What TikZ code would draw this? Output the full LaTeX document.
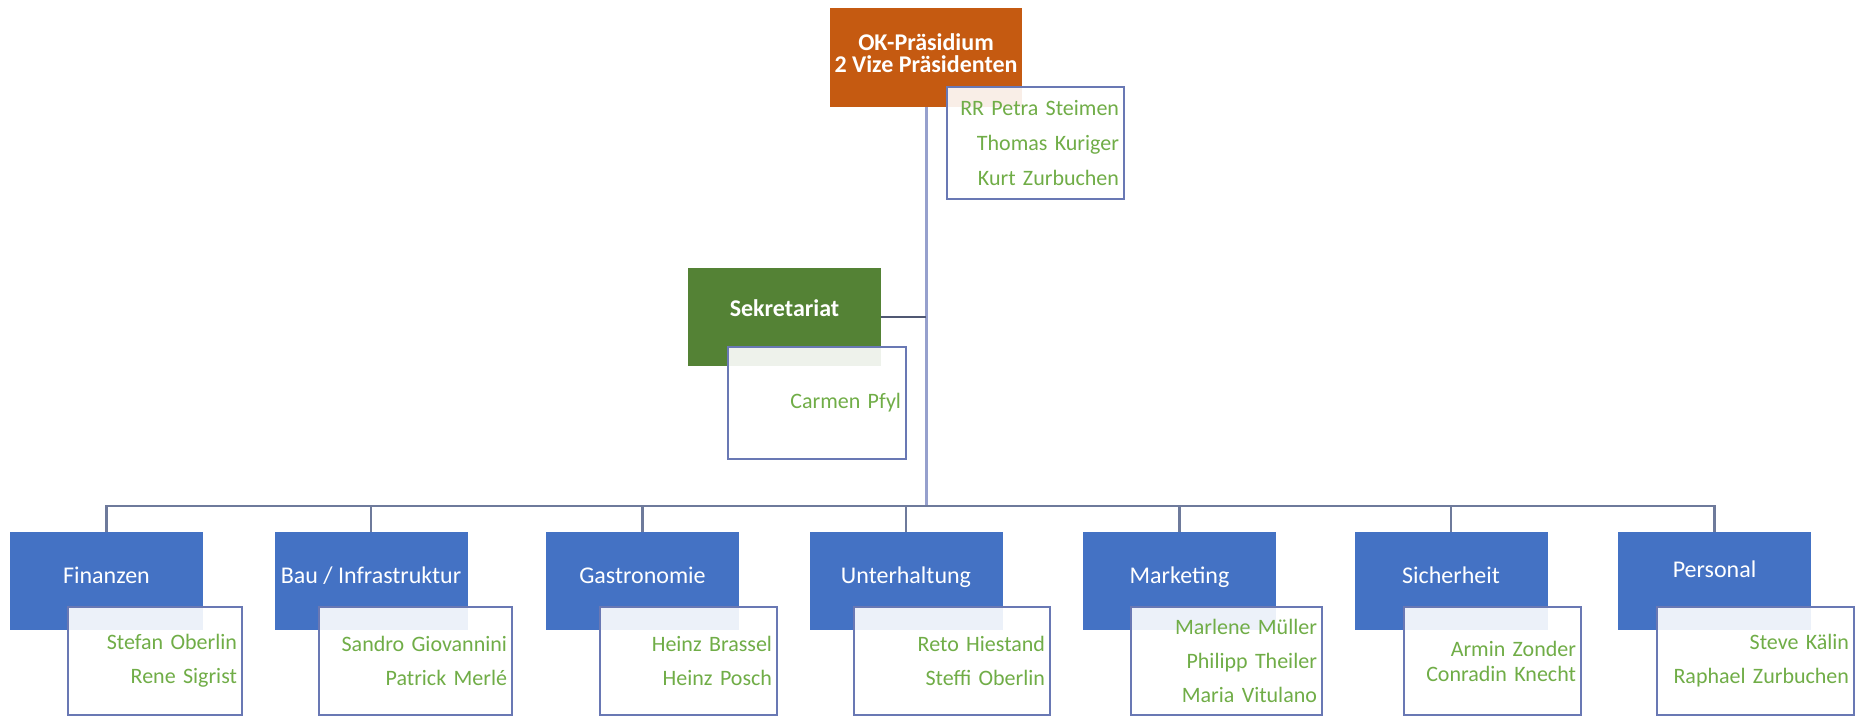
\documentclass[tikz,border=0pt]{standalone}
\usepackage{fontspec}
\setmainfont{Carlito}
\usepackage{tikz}
\usetikzlibrary{calc}
\definecolor{okorange}{RGB}{197,90,17}
\definecolor{sekgreen}{RGB}{84,130,53}
\definecolor{deptblue}{RGB}{68,114,196}
\definecolor{namegreen}{RGB}{112,173,71}
\definecolor{boxline}{RGB}{105,120,180}
\definecolor{trunkline}{RGB}{150,160,205}
\definecolor{branchline}{RGB}{110,122,155}
\definecolor{seklink}{RGB}{80,88,115}
\newcommand{\namefont}{\fontsize{11}{17}\selectfont}

\begin{document}
\begin{tikzpicture}[x=0.5pt,y=-0.5pt,
  box/.style={fill=deptblue,text=white,font=\fontsize{12}{11}\selectfont,
    minimum width=96.5pt,minimum height=49pt,inner sep=0pt},
  head/.style={box,text height=8pt,text depth=6pt},
  names/.style={draw=boxline,line width=0.8pt,fill=white,fill opacity=0.9,
    text opacity=1,text=namegreen,font=\namefont,align=right,
    minimum height=54pt,inner xsep=2.5pt,inner ysep=0pt},
  trunk/.style={draw=trunkline,line width=1.5pt},
  branch/.style={draw=branchline,line width=1.2pt}]
\useasboundingbox (0,0) rectangle (1856,719);

% top
\node[box,fill=okorange,font=\bfseries\fontsize{12}{11}\selectfont,align=center,
  minimum width=96pt,minimum height=49.5pt,text depth=4pt] (ok) at (926,57.5)
  {OK-Präsidium\\2 Vize Präsidenten};
\node[names,text width=83.5pt,minimum height=56pt,
  font=\fontsize{11}{17.5}\selectfont] (okn) at (1035.5,143)
  {RR Petra Steimen\\Thomas Kuriger\\Kurt Zurbuchen};

% secretary
\node[head,fill=sekgreen,font=\bfseries\fontsize{12}{11}\selectfont,
  text depth=9pt] (sek) at (784.5,317) {Sekretariat};
\node[names,text width=84pt,minimum height=56pt] (sekn) at (817,403)
  {Carmen Pfyl};

% departments
\node[head] (fin) at (106.5,581) {Finanzen};
\node[head] (bau) at (371,581) {Bau / Infrastruktur};
\node[head] (gas) at (642.5,581) {Gastronomie};
\node[head] (unt) at (906,581) {Unterhaltung};
\node[head] (mar) at (1179.5,581) {Marketing};
\node[head] (sic) at (1451,581) {Sicherheit};
\node[head,text depth=12pt] (per) at (1714.5,581) {Personal};

\node[names,text width=82pt] (finn) at (155,661) {Stefan Oberlin\\Rene Sigrist};
\node[names,text width=91.5pt] (baun) at (415.5,661) {Sandro Giovannini\\Patrick Merlé};
\node[names,text width=83.5pt] (gasn) at (688.5,661) {Heinz Brassel\\Heinz Posch};
\node[names,text width=93pt] (untn) at (952,661) {Reto Hiestand\\Steffi Oberlin};
\node[names,text width=90.5pt] (marn) at (1226.5,661)
  {Marlene Müller\\Philipp Theiler\\Maria Vitulano};
\node[names,text width=83.5pt,font=\fontsize{11}{12.5}\selectfont] (sicn) at (1492.5,661)
  {Armin Zonder\\Conradin Knecht};
\node[names,text width=93.5pt] (pern) at (1755.5,661) {Steve Kälin\\Raphael Zurbuchen};

% connectors
\coordinate (hub) at (ok.south |- 0,506);
\draw[trunk] (ok.south) -- (hub);
\foreach \d in {fin,bau,gas,unt,mar,sic,per}
  \draw[branch] (hub) -| (\d.north);
\draw[branch,draw=seklink,line width=1pt] (sek.east) -- (sek.east -| ok.south);
\end{tikzpicture}
\end{document}
